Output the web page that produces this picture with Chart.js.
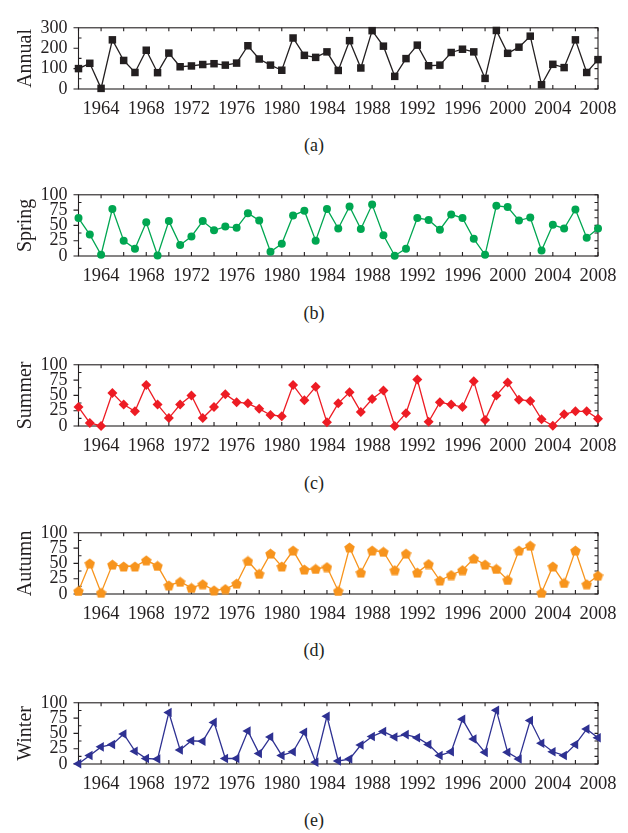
<!DOCTYPE html>
<html>
<head>
<meta charset="utf-8">
<script src="https://cdn.jsdelivr.net/npm/chart.js@4.4.1/dist/chart.umd.min.js"></script>
<style>
  html, body { margin: 0; padding: 0; background: #fff; }
  body { width: 628px; height: 833px; position: relative; overflow: hidden; }
  .panel { position: absolute; left: 0; width: 628px; }
  .cap { position: absolute; left: 0; width: 628px; text-align: center;
         font-family: "Liberation Serif", serif; font-size: 18px; color: #231f20; }
</style>
</head>
<body>
<script>
// ---- data ----
const years = [1962,1963,1964,1965,1966,1967,1968,1969,1970,1971,1972,1973,1974,1975,1976,1977,1978,1979,1980,1981,1982,1983,1984,1985,1986,1987,1988,1989,1990,1991,1992,1993,1994,1995,1996,1997,1998,1999,2000,2001,2002,2003,2004,2005,2006,2007,2008];
const annual = [100,126,3,241,140,81,190,80,176,109,113,120,124,117,127,212,147,117,92,250,165,155,182,91,237,103,286,210,62,149,215,114,117,179,195,182,52,287,175,205,259,21,121,105,241,81,144];
const spring = [62,35,2,77,25,12,55,1,57,18,32,57,42,48,46,70,58,7,20,66,74,25,77,45,81,44,84,34,0.5,12,62,59,43,68,62,28,2,82,80,58,63,9,51,45,76,30,45];
const summer = [31,5,0,54,35,24,67,35,13,35,50,13,31,52,39,37,28,18,16,67,42,64,6,37,55,23,44,58,0,21,76,7,39,35,31,73,10,50,71,43,41,11,0.5,19,24,24,12];
const autumn = [5,50,2,48,45,45,55,46,14,20,10,16,6,8,17,54,33,66,45,71,40,41,44,5,76,35,71,69,39,66,35,49,22,31,39,58,48,41,23,71,79,2,45,18,71,16,30];
const winter = [0.5,14,28,32,49,21,9,8,84,23,38,37,68,9,9,54,17,44,14,20,52,3,78,5,8,31,45,53,44,48,43,32,14,20,73,41,19,88,19,8,71,34,20,14,32,57,43];
const yearLabelStep = 4;
const annualTicks = [0,100,200,300];
const seasonTicks = [0,25,50,75,100];
const captions = ['(a)','(b)','(c)','(d)','(e)'];

// ---- pentagon marker ----
function pentagon(color, size) {
  const c = document.createElement('canvas');
  c.width = size; c.height = size;
  const g = c.getContext('2d');
  const r = size / 2, cx = size / 2, cy = size / 2 + 0.6;
  g.beginPath();
  for (let i = 0; i < 5; i++) {
    const a = -Math.PI / 2 + i * 2 * Math.PI / 5;
    const px = cx + r * Math.cos(a), py = cy + r * Math.sin(a);
    if (i === 0) g.moveTo(px, py); else g.lineTo(px, py);
  }
  g.closePath();
  g.fillStyle = color;
  g.fill();
  return c;
}

const INK = '#231f20';
const FONT = '"Liberation Serif", serif';

const framePlugin = {
  id: 'frame',
  beforeDatasetsDraw(chart, args, opts) {
    const { ctx, chartArea: a, scales } = chart;
    const x = scales.x, y = scales.y;
    ctx.save();
    ctx.strokeStyle = INK;
    ctx.lineWidth = 1.1;
    ctx.strokeRect(a.left, a.top, a.right - a.left, a.bottom - a.top);
    ctx.beginPath();
    for (let yr = years[0]; yr <= years[years.length - 1]; yr += 2) {
      const px = x.getPixelForValue(yr);
      ctx.moveTo(px, a.bottom); ctx.lineTo(px, a.bottom - 4);
      ctx.moveTo(px, a.top); ctx.lineTo(px, a.top + 3.5);
    }
    const ticks = opts.ticks;
    const half = (ticks[1] - ticks[0]) / 2;
    for (let v = ticks[0]; v <= ticks[ticks.length - 1] + 1e-9; v += half) {
      const py = y.getPixelForValue(v);
      const major = ticks.indexOf(v) >= 0;
      if (major) { ctx.moveTo(a.left, py); ctx.lineTo(a.left - 5, py); }
      else { ctx.moveTo(a.left, py); ctx.lineTo(a.left + 3, py); }
      ctx.moveTo(a.right, py); ctx.lineTo(a.right - 3.5, py);
    }
    ctx.stroke();
    ctx.restore();
  }
};

const panels = [
  { title: 'Annual', data: annual, color: INK, style: 'rect', radius: 5.3, rot: 0, ticks: annualTicks, top: 16 },
  { title: 'Spring', data: spring, color: '#00a651', style: 'circle', radius: 4, rot: 0, ticks: seasonTicks, top: 183.3 },
  { title: 'Summer', data: summer, color: '#ed1c24', style: 'rectRot', radius: 5, rot: 0, ticks: seasonTicks, top: 353.3 },
  { title: 'Autumn', data: autumn, color: '#f7941d', style: 'pent', radius: 5, rot: 0, ticks: seasonTicks, top: 521 },
  { title: 'Winter', data: winter, color: '#2e3192', style: 'triangle', radius: 5.5, rot: -90, ticks: seasonTicks, top: 690.7 }
];

const PAD_TOP = 10, PLOT_H = 72.4, X_H = 40;
const LEFT = 78.5, RIGHT_PAD = 30;

panels.forEach((p, i) => {
  const wrap = document.createElement('div');
  wrap.className = 'panel';
  wrap.style.top = (p.top - PAD_TOP) + 'px';
  const cv = document.createElement('canvas');
  const H = Math.ceil(PAD_TOP + PLOT_H + X_H);
  cv.width = 628; cv.height = H;
  cv.style.width = '628px'; cv.style.height = H + 'px';
  wrap.appendChild(cv);
  document.body.appendChild(wrap);

  const cap = document.createElement('div');
  cap.className = 'cap';
  cap.textContent = captions[i];
  cap.style.top = (p.top + PLOT_H + 47) + 'px';
  document.body.appendChild(cap);

  const pointStyle = p.style === 'pent' ? pentagon(p.color, 11) : p.style;
  const maxY = p.ticks[p.ticks.length - 1];

  new Chart(cv.getContext('2d'), {
    type: 'line',
    data: {
      datasets: [{
        data: years.map((yr, k) => ({ x: yr, y: p.data[k] })),
        borderColor: p.color,
        backgroundColor: p.color,
        borderWidth: 1.3,
        pointStyle: pointStyle,
        pointRadius: p.radius,
        pointRotation: p.rot,
        pointBorderWidth: 0,
        pointBackgroundColor: p.color,
        tension: 0,
        clip: false
      }]
    },
    options: {
      responsive: false,
      animation: false,
      devicePixelRatio: 1,
      layout: { padding: { top: PAD_TOP, right: RIGHT_PAD, left: 0, bottom: 0 } },
      plugins: { legend: { display: false }, tooltip: { enabled: false }, frame: { ticks: p.ticks } },
      scales: {
        x: {
          type: 'linear',
          min: years[0], max: years[years.length - 1],
          grid: { display: false, drawTicks: false },
          border: { display: false },
          ticks: {
            stepSize: 2, autoSkip: false, maxRotation: 0, padding: 9,
            color: INK, font: { family: FONT, size: 18.5 },
            callback: v => (v % yearLabelStep === 0 ? String(v) : '')
          },
          afterFit: s => { s.height = X_H; }
        },
        y: {
          min: 0, max: maxY,
          grid: { display: false, drawTicks: false },
          border: { display: false },
          afterBuildTicks: s => { s.ticks = p.ticks.map(v => ({ value: v })); },
          ticks: { autoSkip: false, padding: 11, color: INK, font: { family: FONT, size: 18 } },
          title: { display: true, text: p.title, color: INK, font: { family: FONT, size: 20 }, padding: { top: 14, bottom: 0 } },
          afterFit: s => { s.width = LEFT; }
        }
      }
    },
    plugins: [framePlugin]
  });
});
</script>
</body>
</html>
